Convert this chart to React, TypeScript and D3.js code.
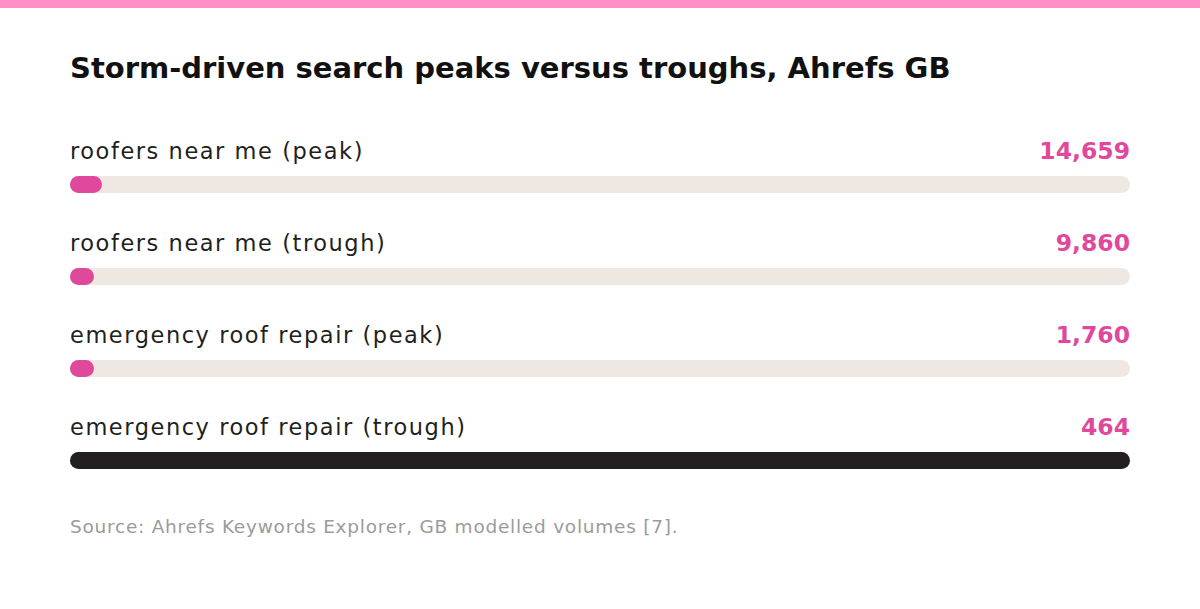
import React from "react";
import * as d3 from "d3";

const title = "Storm-driven search peaks versus troughs, Ahrefs GB";
const categories = [
  "roofers near me (peak)",
  "roofers near me (trough)",
  "emergency roof repair (peak)",
  "emergency roof repair (trough)",
];
const valueLabels = ["14,659", "9,860", "1,760", "464"];
const source = "Source: Ahrefs Keywords Explorer, GB modelled volumes [7].";

// Bar lengths as rendered in the original (values parsed from formatted labels)
const barValues = valueLabels.map((s) => parseFloat(s));

const W = 1200;
const H = 609;
const left = 70;
const right = 1130;
const firstTrack = 176;
const rowStep = 92;
const barH = 17;
const minBar = 24;

export default function App() {
  const x = d3
    .scaleLinear()
    .domain([0, d3.max(barValues) as number])
    .range([0, right - left]);
  const y = d3
    .scalePoint<string>()
    .domain(categories)
    .range([firstTrack, firstTrack + rowStep * (categories.length - 1)]);
  const maxV = d3.max(barValues) as number;
  const font = "'DejaVu Sans', sans-serif";
  return (
    <svg
      width={W}
      height={H}
      viewBox={`0 0 ${W} ${H}`}
      style={{ position: "absolute", left: 0, top: 0, background: "#fff" }}
    >
      <rect x={0} y={0} width={W} height={H} fill="#ffffff" />
      <rect x={0} y={0} width={W} height={8} fill="#ff8fc6" />
      <text x={left} y={78} fontFamily={font} fontWeight={700} fontSize={29} fill="#111">
        {title}
      </text>
      {categories.map((c, i) => {
        const ty = y(c) as number;
        const v = barValues[i];
        const isMax = v === maxV;
        const w = Math.max(minBar, x(v));
        return (
          <g key={c}>
            <text
              x={left}
              y={ty - 17}
              fontFamily={font}
              fontSize={22.5}
              letterSpacing={1.55}
              fill="#231f20"
            >
              {c}
            </text>
            <text
              x={right}
              y={ty - 17}
              textAnchor="end"
              fontFamily={font}
              fontWeight={700}
              fontSize={23.5}
              fill="#e0489b"
            >
              {valueLabels[i]}
            </text>
            <rect x={left} y={ty} width={right - left} height={barH} rx={barH / 2} fill="#efe8e2" />
            <rect
              x={left}
              y={ty}
              width={w}
              height={barH}
              rx={barH / 2}
              fill={isMax ? "#231f20" : "#e0489b"}
            />
          </g>
        );
      })}
      <text
        x={left}
        y={533}
        fontFamily={font}
        fontSize={18.5}
        letterSpacing={0.75}
        fill="#9b9b9b"
      >
        {source}
      </text>
    </svg>
  );
}
